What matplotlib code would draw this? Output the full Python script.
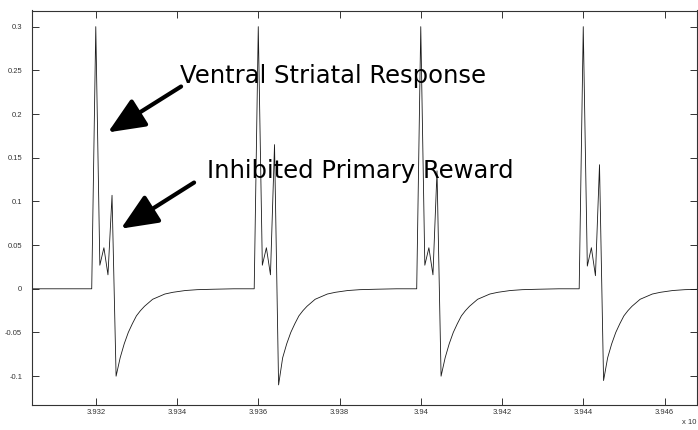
"""
Repeating ventral striatal response trace with annotated peaks
"""
import numpy as np
import matplotlib
matplotlib.use("Agg")
import matplotlib.pyplot as plt

# pulse centres (x 10^4) and per-pulse sample values
pulse_centres = [3.932, 3.936, 3.940, 3.944]
main_peaks = [0.300, 0.300, 0.300, 0.300]
first_dips = [0.027, 0.027, 0.027, 0.026]
bumps = [0.047, 0.047, 0.047, 0.047]
second_dips = [0.016, 0.016, 0.016, 0.015]
reward_peaks = [0.107, 0.165, 0.135, 0.142]
troughs = [-0.100, -0.110, -0.100, -0.105]

# sample offsets within one pulse, in units of 1e-4
head_offsets = [-1, 0, 1, 2, 3, 4, 5]

# recovery after the trough
tail_offsets = [6, 7, 8, 9, 10, 11, 12, 13, 14, 15, 17, 19, 22, 25, 29, 34, 38]
tail_values = [-0.079, -0.063, -0.050, -0.040, -0.031, -0.025, -0.020, -0.016,
               -0.012, -0.010, -0.006, -0.004, -0.002, -0.001, -0.0005, 0.0, 0.0]

y_ticks = [-0.1, -0.05, 0, 0.05, 0.1, 0.15, 0.2, 0.25, 0.3]
y_labels = ["-0.1", "-0.05", "0", "0.05", "0.1", "0.15", "0.2", "0.25", "0.3"]
x_ticks = [3.932, 3.934, 3.936, 3.938, 3.940, 3.942, 3.944, 3.946]
x_labels = ["3.932", "3.934", "3.936", "3.938", "3.94", "3.942", "3.944", "3.946"]


def build_trace():
    xs = [3.9300]
    ys = [0.0]
    for i, c in enumerate(pulse_centres):
        head = [0.0, main_peaks[i], first_dips[i], bumps[i],
                second_dips[i], reward_peaks[i], troughs[i]]
        for off, v in zip(head_offsets + tail_offsets, head + tail_values):
            xs.append(c + off * 1e-4)
            ys.append(v)
    return np.array(xs), np.array(ys)


def main():
    x, y = build_trace()

    fig = plt.figure(figsize=(6.98, 4.30), dpi=100)
    ax = fig.add_axes([32 / 698, 1 - 405 / 430, 665 / 698, 394.5 / 430])

    ax.plot(x, y, color="#1a1a1a", lw=0.6)

    ax.set_xlim(3.93043, 3.94680)
    ax.set_ylim(-0.133, 0.3185)

    ax.set_yticks(y_ticks)
    ax.set_yticklabels(y_labels)
    ax.set_xticks(x_ticks)
    ax.set_xticklabels(x_labels)

    for s in ax.spines.values():
        s.set_color("#333333")
        s.set_linewidth(0.8)
    ax.tick_params(direction="in", length=5, width=0.7, color="#333333",
                   top=True, right=True, labelsize=5.5, labelcolor="#333333")
    ax.tick_params(axis="y", pad=7)
    ax.tick_params(axis="x", pad=3)
    for lbl in ax.get_xticklabels() + ax.get_yticklabels():
        lbl.set_family("Liberation Sans")

    fig.text(682 / 698, 1 - 423 / 430, "x 10", fontsize=5.5,
             family="Liberation Sans", color="#333333", va="center")

    # labels with arrows pointing to the two peaks
    ax.text(3.93407, 0.2351, "Ventral Striatal Response", fontsize=17.5,
            family="DejaVu Sans", va="baseline")
    ax.text(3.93474, 0.1273, "Inhibited Primary Reward", fontsize=17.5,
            family="DejaVu Sans", va="baseline")

    arrow = dict(arrowstyle="-|>,head_length=1.5,head_width=0.65", lw=3,
                 color="black", shrinkA=0, shrinkB=0, mutation_scale=15)
    ax.annotate("", xy=(3.93230, 0.179), xytext=(3.93410, 0.2315),
                arrowprops=arrow)
    ax.annotate("", xy=(3.93262, 0.0688), xytext=(3.93442, 0.1216),
                arrowprops=arrow)

    fig.savefig("out.png", dpi=100)


if __name__ == "__main__":
    main()
